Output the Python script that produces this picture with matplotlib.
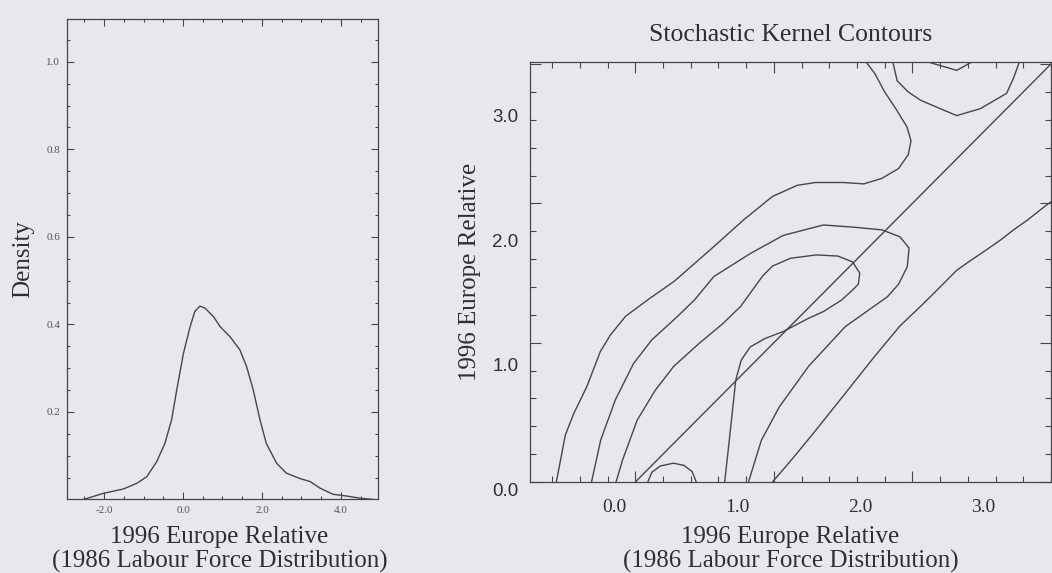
import matplotlib

matplotlib.use("Agg")
import matplotlib.pyplot as plt
import matplotlib.transforms as mtransforms
import numpy as np

BG = "#e7e7ec"
INK = "#45454d"
TEXT = "#2e2e34"
SERIF = "Liberation Serif"
SANS = "Liberation Sans"

# ---- left panel: density of relative values ----
density_x = [-2.52, -2.02, -1.51, -1.17, -0.92, -0.67, -0.46, -0.29, -0.16, 0.01,
             0.18, 0.30, 0.43, 0.56, 0.77, 0.94, 1.19, 1.44, 1.61, 1.78, 1.95,
             2.11, 2.37, 2.62, 2.96, 3.22, 3.47, 3.80, 4.14, 4.48, 4.82]
density_y = [0.0, 0.014, 0.024, 0.037, 0.052, 0.086, 0.128, 0.182, 0.25, 0.334,
             0.395, 0.43, 0.442, 0.437, 0.418, 0.395, 0.372, 0.342, 0.304, 0.25,
             0.182, 0.128, 0.083, 0.06, 0.048, 0.041, 0.026, 0.012, 0.008, 0.003, 0.0]
density_xticks = [-2.0, 0.0, 2.0, 4.0]
density_xlabels = ["-2.0", "0.0", "2.0", "4.0"]
density_yticks = [0.2, 0.4, 0.6, 0.8, 1.0]
density_ylabels = ["0.2", "0.4", "0.6", "0.8", "1.0"]

# ---- right panel: stochastic kernel contour lines (1986 -> 1996) ----
outer_left_x = [-0.57, -0.505, -0.445, -0.35, -0.253, -0.18, -0.07, 0.10, 0.28, 0.567,
                0.78, 0.99, 1.17, 1.30, 1.50, 1.65, 1.78, 1.90, 1.97, 1.99, 1.96,
                1.88, 1.80, 1.73, 1.67]
outer_left_y = [0.0, 0.337, 0.49, 0.684, 0.935, 1.055, 1.19, 1.315, 1.44, 1.69,
                1.88, 2.05, 2.13, 2.15, 2.15, 2.14, 2.18, 2.25, 2.35, 2.45, 2.55,
                2.68, 2.80, 2.93, 3.01]
outer_right_x = [0.99, 1.145, 1.304, 1.515, 1.726, 1.91, 2.068, 2.15, 2.23, 2.32,
                 2.42, 2.51, 2.64, 2.73, 2.83, 2.97, 3.0]
outer_right_y = [0.0, 0.18, 0.373, 0.636, 0.9, 1.12, 1.27, 1.35, 1.43, 1.52,
                 1.59, 1.65, 1.74, 1.81, 1.88, 1.99, 2.01]
middle_x = [-0.316, -0.25, -0.144, -0.013, 0.119, 0.303, 0.43, 0.567, 0.83, 1.067,
            1.357, 1.568, 1.78, 1.91, 1.976, 1.963, 1.90, 1.82, 1.515, 1.25, 1.04,
            0.91, 0.817]
middle_y = [0.0, 0.30, 0.59, 0.85, 1.02, 1.187, 1.31, 1.475, 1.64, 1.77,
            1.845, 1.83, 1.81, 1.76, 1.68, 1.545, 1.42, 1.33, 1.115, 0.83, 0.54,
            0.30, 0.0]
inner_x = [-0.139, -0.092, 0.014, 0.145, 0.277, 0.461, 0.634, 0.76, 0.84, 0.92,
           0.99, 1.12, 1.304, 1.462, 1.568, 1.62, 1.61, 1.568, 1.489, 1.357, 1.25,
           1.067, 0.936, 0.83, 0.765, 0.725, 0.699, 0.673, 0.645]
inner_y = [0.0, 0.158, 0.445, 0.66, 0.83, 0.995, 1.139, 1.26, 1.37, 1.48,
           1.55, 1.606, 1.63, 1.622, 1.58, 1.50, 1.42, 1.378, 1.306, 1.223, 1.175,
           1.08, 1.03, 0.97, 0.876, 0.732, 0.49, 0.251, 0.0]
low_bump_x = [0.09, 0.12, 0.18, 0.275, 0.35, 0.41, 0.44]
low_bump_y = [0.0, 0.07, 0.115, 0.135, 0.12, 0.075, 0.0]
top_cup_x = [1.86, 1.89, 1.97, 2.06, 2.32, 2.49, 2.68, 2.73, 2.77]
top_cup_y = [3.01, 2.88, 2.80, 2.74, 2.63, 2.68, 2.79, 2.90, 3.01]
top_notch_x = [2.13, 2.32, 2.42]
top_notch_y = [3.01, 2.955, 3.01]

kernel_ticks = [0.0, 1.0, 2.0, 3.0]
kernel_labels = ["0.0", "1.0", "2.0", "3.0"]

# the printed tick labels sit off the tick marks in the original figure
LABEL_X0, LABEL_XS = -0.152, 0.888
LABEL_Y0, LABEL_YS = -0.065, 0.893

plt.rcParams["font.family"] = SERIF
fig = plt.figure(figsize=(10.52, 5.73), dpi=100, facecolor=BG)


def style_box(ax):
    ax.set_facecolor(BG)
    for side in ax.spines.values():
        side.set_color(INK)
        side.set_linewidth(0.9)
    ax.tick_params(which="both", direction="in", top=True, right=True,
                   color=INK, width=0.8)


# ---- left panel ----
ax1 = fig.add_axes([0.0637, 0.1283, 0.2956, 0.8386])
style_box(ax1)
ax1.plot(density_x, density_y, color=INK, lw=1.0)
ax1.set_xlim(-2.94, 4.94)
ax1.set_ylim(0, 1.098)
ax1.set_xticks(density_xticks)
ax1.set_xticklabels(density_xlabels)
ax1.set_xticks(np.arange(-2.5, 4.9, 0.5), minor=True)
ax1.set_yticks(density_yticks)
ax1.set_yticklabels(density_ylabels)
ax1.set_yticks(np.arange(0.05, 1.09, 0.05), minor=True)
ax1.tick_params(which="major", length=5, labelsize=8, labelcolor="#55555c", pad=5)
ax1.tick_params(which="minor", length=2.5)
ax1.set_ylabel("Density", fontsize=18, color=TEXT)
ax1.yaxis.set_label_coords(-0.105, 0.5)
ax1.set_xlabel("1996 Europe Relative\n(1986 Labour Force Distribution)",
               fontsize=18, color=TEXT, linespacing=1.12)
ax1.xaxis.set_label_coords(0.49, -0.055)

# ---- right panel ----
ax2 = fig.add_axes([0.5038, 0.1588, 0.4952, 0.733])
style_box(ax2)
lines = [
    (outer_left_x, outer_left_y),
    (outer_right_x, outer_right_y),
    (middle_x, middle_y),
    (inner_x, inner_y),
    (low_bump_x, low_bump_y),
    (top_cup_x, top_cup_y),
    (top_notch_x, top_notch_y),
]
for xs, ys in lines:
    ax2.plot(xs, ys, color=INK, lw=1.0, solid_joinstyle="round")
ax2.axline((0, 0), slope=1, color=INK, lw=1.0)
ax2.set_xlim(-0.76, 3.0)
ax2.set_ylim(0, 3.015)
ax2.set_xticks(kernel_ticks)
ax2.set_xticks(np.arange(-0.6, 3.0, 0.2), minor=True)
ax2.set_yticks(kernel_ticks)
ax2.set_yticks(np.arange(0.2, 3.0, 0.2), minor=True)
ax2.tick_params(which="both", labelbottom=False, labelleft=False)
ax2.tick_params(which="major", length=8)
ax2.tick_params(which="minor", length=4)
ax2.set_title("Stochastic Kernel Contours", fontsize=18.5, color=TEXT, pad=15)

# tick labels placed where the original printed them
x_lab_tr = mtransforms.blended_transform_factory(ax2.transData, ax2.transAxes)
y_lab_tr = mtransforms.blended_transform_factory(ax2.transAxes, ax2.transData)
for v, lab in zip(kernel_ticks, kernel_labels):
    ax2.text(LABEL_X0 + LABEL_XS * v, -0.06, lab, transform=x_lab_tr,
             ha="center", va="center", fontsize=14, color=TEXT, clip_on=False)
    ax2.text(-0.022, LABEL_Y0 + LABEL_YS * v, lab, transform=y_lab_tr,
             ha="right", va="center", fontsize=13.5, color=TEXT,
             family=SANS, clip_on=False)

ax2.set_xlabel("1996 Europe Relative\n(1986 Labour Force Distribution)",
               fontsize=18, color=TEXT, linespacing=1.12)
ax2.xaxis.set_label_coords(0.5, -0.104)
ax2.set_ylabel("1996 Europe Relative", fontsize=18, color=TEXT)
ax2.yaxis.set_label_coords(-0.094, 0.5)

fig.savefig("out.png", dpi=100, facecolor=BG)
